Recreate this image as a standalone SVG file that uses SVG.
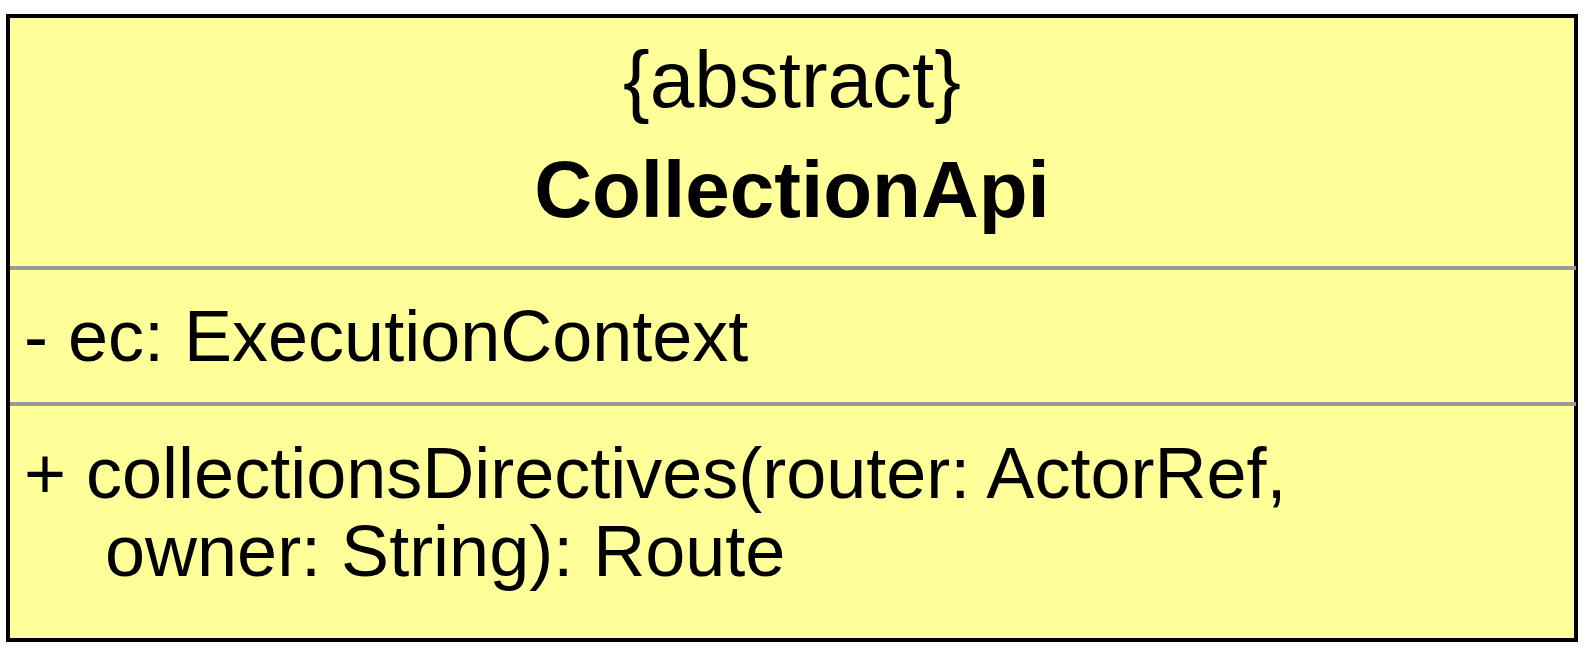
<svg xmlns="http://www.w3.org/2000/svg" width="1586" height="648" viewBox="0 0 1586 648">
<style>
.box{fill:#FFFF99;stroke:#000;stroke-width:4}
.div{stroke:#999;stroke-width:4}
.t{font-family:"Liberation Sans",Arial,Helvetica,sans-serif;fill:#000}
.hdr{font-size:80px;text-anchor:middle}
.name{font-weight:bold}
.body{font-size:72px}
</style>
<rect width="1586" height="648" fill="#fff"/>
<g id="CollectionApi">
<rect class="box" x="8" y="16" width="1568" height="624"/>
<line class="div" x1="10" y1="268" x2="1576" y2="268"/>
<line class="div" x1="10" y1="404" x2="1576" y2="404"/>
<text class="t hdr" x="792" y="107">{abstract}</text>
<text class="t hdr name" x="792" y="217">CollectionApi</text>
<text class="t body" x="24" y="361">- ec: ExecutionContext</text>
<text class="t body" x="24" y="498">+ collectionsDirectives(router: ActorRef,</text>
<text class="t body" x="105" y="576">owner: String): Route</text>
</g>
<g id="connectors"></g>
</svg>
